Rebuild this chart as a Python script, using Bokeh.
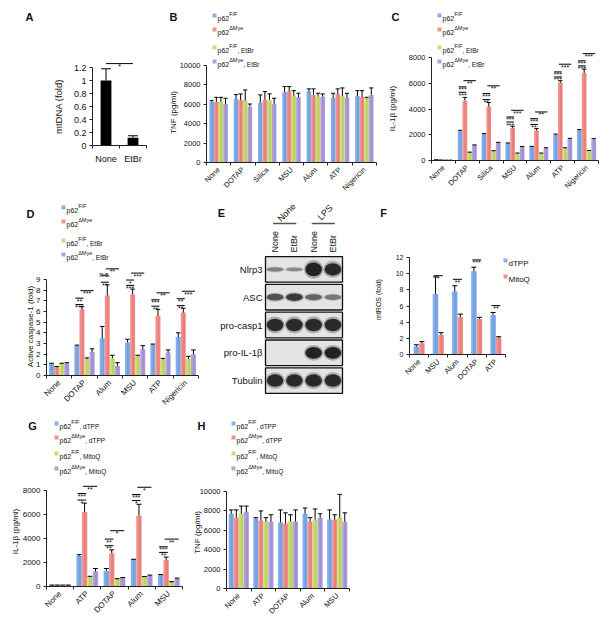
import math
from bokeh.plotting import figure
from bokeh.models import (Range1d, FixedTicker, Label, ColumnDataSource,
                          NumeralTickFormatter, CustomJSTickFormatter)
from bokeh.layouts import row, column
from bokeh.embed import file_html
from bokeh.resources import INLINE

FONT = "Liberation Sans"
TXT = "#111111"
BLUE, RED, GREEN, PURPLE = "#86afe8", "#f19490", "#c9de76", "#b2a2dc"
BLUE_D, RED_D, GREEN_D, PURPLE_D = "#6596dc", "#e46f6b", "#b0c955", "#9682cc"

# ---------------- data ----------------
A_cats = ["None", "EtBr"]
A_mtdna = [1.0, 0.12]
A_mtdna_err = [1.18, 0.15]
A_yticks = [0, 0.2, 0.4, 0.6, 0.8, 1.0, 1.2]

B_cats = ["None", "DOTAP", "Silica", "MSU", "Alum", "ATP", "Nigericin"]
B_ff = [6250, 6550, 6170, 7240, 7340, 6650, 6830]
B_ff_err = [6380, 7000, 6970, 7830, 7590, 7140, 7410]
B_dm = [6250, 6450, 6480, 7340, 6970, 7030, 6720]
B_dm_err = [6720, 7070, 7310, 7830, 7590, 7590, 7410]
B_ffe = [6250, 6380, 6480, 6900, 6790, 6860, 6620]
B_ffe_err = [6720, 7480, 7070, 7410, 7140, 7690, 6720]
B_dme = [6030, 5760, 6030, 6720, 6790, 6650, 6970]
B_dme_err = [6620, 6030, 6620, 7140, 7070, 7140, 7690]
B_yticks = [0, 2000, 4000, 6000, 8000, 10000]

C_cats = ["None", "DOTAP", "Silica", "MSU", "Alum", "ATP", "Nigericin"]
C_ff = [50, 2300, 2050, 1320, 1060, 2000, 2350]
C_ff_err = [60, 2350, 2100, 1360, 1100, 2050, 2400]
C_dm = [30, 4650, 4200, 2530, 2330, 6050, 6800]
C_dm_err = [40, 4900, 4500, 2660, 2480, 6200, 7100]
C_ffe = [20, 620, 720, 550, 560, 960, 750]
C_ffe_err = [25, 650, 760, 580, 580, 990, 780]
C_dme = [20, 1180, 1380, 1060, 960, 1660, 1620]
C_dme_err = [25, 1210, 1410, 1090, 990, 1720, 1700]
C_yticks = [0, 2000, 4000, 6000, 8000]
C_sig = [(1, 0, 1, 5300, "***"), (1, 0, 1, 5720, "***"), (1, 1, 3, 6200, "**"),
         (2, 0, 1, 4730, "**"), (2, 0, 1, 5200, "***"), (2, 1, 3, 5800, "**"),
         (3, 0, 1, 2990, "***"), (3, 0, 1, 3380, "***"), (3, 1, 3, 3900, "***"),
         (4, 0, 1, 2800, "**"), (4, 0, 1, 3250, "***"), (4, 1, 3, 3770, "**"),
         (5, 0, 1, 6490, "***"), (5, 0, 1, 6880, "***"), (5, 1, 3, 7480, "***"),
         (6, 0, 1, 7350, "***"), (6, 0, 1, 7740, "***"), (6, 1, 3, 8300, "***")]

D_cats = ["None", "DOTAP", "Alum", "MSU", "ATP", "Nigericin"]
D_ff = [1.1, 2.8, 3.5, 3.1, 2.9, 3.6]
D_ff_err = [1.15, 2.85, 4.6, 3.4, 2.95, 4.0]
D_dm = [0.8, 6.2, 7.5, 7.6, 5.6, 5.9]
D_dm_err = [0.85, 6.45, 8.5, 8.1, 6.2, 6.3]
D_ffe = [1.1, 1.55, 1.6, 1.8, 1.5, 1.55]
D_ffe_err = [1.15, 1.65, 1.9, 1.9, 1.6, 1.8]
D_dme = [1.15, 2.2, 0.9, 2.45, 2.15, 2.0]
D_dme_err = [1.2, 2.5, 1.2, 2.8, 2.4, 2.4]
D_yticks = [0, 1, 2, 3, 4, 5, 6, 7, 8, 9]
D_sig = [(1, 0, 1, 6.65, "***"), (1, 0, 1, 7.25, "**"), (1, 1, 3, 7.95, "***"),
         (2, 0, 1, 8.75, "**"), (2, 0, 1, 9.4, "n.s."), (2, 1, 3, 10.0, "**"),
         (3, 0, 1, 8.45, "***"), (3, 0, 1, 8.95, "*"), (3, 1, 3, 9.6, "***"),
         (4, 0, 1, 6.5, "**"), (4, 0, 1, 7.1, "***"), (4, 1, 3, 7.75, "**"),
         (5, 0, 1, 6.55, "**"), (5, 0, 1, 7.2, "**"), (5, 1, 3, 7.9, "***")]

E_lanes = ["None", "EtBr", "None", "EtBr"]
E_groups = ["None", "LPS"]
E_rows = ["Nlrp3", "ASC", "pro-casp1", "pro-IL-1\u03b2", "Tubulin"]
E_band = [[0.45, 0.4, 1.0, 0.95],
          [0.7, 0.85, 0.6, 0.5],
          [0.95, 0.95, 0.95, 0.95],
          [0.0, 0.0, 1.0, 1.0],
          [0.95, 0.95, 0.95, 0.95]]
E_thick = [[0.16, 0.14, 0.5, 0.45],
           [0.24, 0.27, 0.22, 0.2],
           [0.45, 0.45, 0.45, 0.45],
           [0.0, 0.0, 0.42, 0.42],
           [0.45, 0.45, 0.45, 0.45]]

F_cats = ["None", "MSU", "Alum", "DOTAP", "ATP"]
F_dtpp = [1.0, 7.5, 7.8, 10.3, 4.9]
F_dtpp_err = [1.2, 9.6, 8.5, 10.8, 5.2]
F_mitoq = [1.4, 2.4, 4.6, 4.4, 2.1]
F_mitoq_err = [1.6, 2.7, 5.0, 4.6, 2.2]
F_yticks = [0, 2, 4, 6, 8, 10, 12]
F_sig = [(1, 0, 1, 9.75, "*"), (2, 0, 1, 9.3, "**"), (3, 0, 1, 11.7, "***"), (4, 0, 1, 6.05, "**")]

G_cats = ["None", "ATP", "DOTAP", "Alum", "MSU"]
G_ffd = [100, 2550, 1300, 2250, 950]
G_ffd_err = [120, 2650, 1500, 2270, 1000]
G_dmd = [100, 6200, 2750, 5900, 2200]
G_dmd_err = [120, 6950, 3050, 6850, 2450]
G_ffm = [100, 800, 600, 800, 350]
G_ffm_err = [120, 850, 650, 830, 400]
G_dmm = [100, 1250, 700, 900, 650]
G_dmm_err = [120, 1500, 750, 950, 700]
G_yticks = [0, 2000, 4000, 6000, 8000]
G_sig = [(1, 0, 1, 7200, "*"), (1, 0, 1, 7750, "***"), (1, 1, 3, 8350, "**"),
         (2, 0, 1, 3400, "**"), (2, 0, 1, 3950, "**"), (2, 1, 3, 4650, "*"),
         (3, 0, 1, 7160, "*"), (3, 0, 1, 7660, "***"), (3, 1, 3, 8270, "*"),
         (4, 0, 1, 2840, "**"), (4, 0, 1, 3310, "***"), (4, 1, 3, 3950, "**")]

H_cats = ["None", "ATP", "DOTAP", "Alum", "MSU"]
H_ffd = [7700, 7200, 6800, 7700, 7100]
H_ffd_err = [8100, 7300, 8100, 8300, 8100]
H_dmd = [7300, 7000, 6700, 6900, 7100]
H_dmd_err = [8100, 8000, 7800, 7300, 7600]
H_ffm = [7700, 6900, 6900, 7100, 7300]
H_ffm_err = [8500, 7300, 7600, 8200, 9700]
H_dmm = [7900, 6900, 6900, 7300, 6900]
H_dmm_err = [8500, 7600, 8100, 7700, 7800]
H_yticks = [0, 2000, 4000, 6000, 8000, 10000]

LEG_ETBR = [("p62", "F/F", ""), ("p62", "\u0394Mye", ""),
            ("p62", "F/F", ", EtBr"), ("p62", "\u0394Mye", ", EtBr")]
LEG_MITO = [("p62", "F/F", ", dTPP"), ("p62", "\u0394Mye", ", dTPP"),
            ("p62", "F/F", ", MitoQ"), ("p62", "\u0394Mye", ", MitoQ")]
COLS4 = [BLUE, RED, GREEN, PURPLE]
DARK4 = [BLUE_D, RED_D, GREEN_D, PURPLE_D]

CW = {'p': .556, '6': .556, '2': .556, 'F': .611, '/': .278, '\u0394': .668, 'M': .833,
      'y': .5, 'e': .556, ',': .278, ' ': .278, 'E': .667, 't': .278, 'B': .667,
      'r': .333, 'd': .556, 'T': .611, 'P': .667, 'i': .222, 'o': .556, 'Q': .778}


def tw(s, fs):
    return fs * sum(CW.get(c, 0.556) for c in s)


class Panel:
    """A figure whose frame fills its whole box; data x = (px - x0px) * ux, data y = (y0px - py) * uy."""

    def __init__(self, box, x0px, ux, y0px, uy, axes=True):
        bx0, by0, bx1, by1 = box
        self.x0px, self.ux, self.y0px, self.uy = x0px, ux, y0px, uy
        xr = (self.dx(bx0), self.dx(bx1))
        yr = (self.dy(by1), self.dy(by0))
        kw = {} if axes else dict(x_axis_location=None, y_axis_location=None)
        p = figure(width=bx1 - bx0, height=by1 - by0, title=None,
                   output_backend="svg", toolbar_location=None,
                   x_range=Range1d(*xr), y_range=Range1d(*yr),
                   min_border=0, min_border_left=0, min_border_right=0,
                   min_border_top=0, min_border_bottom=0, **kw)
        p.outline_line_color = None
        p.background_fill_color = "white"
        p.border_fill_color = "white"
        p.xgrid.visible = False
        p.ygrid.visible = False
        if axes:
            p.xaxis.fixed_location = 0
            p.yaxis.fixed_location = 0
        self.p = p

    def dx(self, x):
        return (x - self.x0px) * self.ux

    def dy(self, y):
        return (self.y0px - y) * self.uy

    def label(self, x, y, text, fs, align="left", baseline="middle", angle=0.0, bold=False):
        self.p.add_layout(Label(x=self.dx(x), y=self.dy(y), text=text, text_font=FONT,
                                text_font_size=f"{fs}px", text_align=align,
                                text_baseline=baseline, angle=angle, text_color=TXT,
                                text_font_style="bold" if bold else "normal"))

    def legend(self, sx, rows, entries, colors, fs=7, fs_sup=5.5, fs_suf=6.5, sq=4):
        for y, (base, sup, suf), col in zip(rows, entries, colors):
            self.p.scatter([self.dx(sx)], [self.dy(y)], marker="square", size=sq,
                           fill_color=col, line_color=None)
            x = sx + 3
            self.label(x, y + 2.5, base, fs, baseline="alphabetic")
            x += tw(base, fs)
            if sup:
                self.label(x, y - 1.5, sup, fs_sup, baseline="alphabetic")
                x += tw(sup, fs_sup)
            if suf:
                self.label(x, y + 2.5, suf, fs_suf, baseline="alphabetic")

    def bars(self, series, errs, colors, darks, bw):
        k = len(series)
        for j, (v, e, c, d) in enumerate(zip(series, errs, colors, darks)):
            off = (j - (k - 1) / 2) * bw
            xs = [i + 0.5 + off for i in range(len(v))]
            src = ColumnDataSource(dict(x=xs, top=v, err=e,
                                        xa=[x - bw * 0.45 for x in xs],
                                        xb=[x + bw * 0.45 for x in xs],
                                        xd=[x + bw * 0.1 for x in xs]))
            self.p.vbar(x="x", top="top", width=bw, fill_color=c, line_color=None, source=src)
            if d is not None:
                self.p.vbar(x="xd", top="top", width=bw * 0.45, fill_color=d,
                            fill_alpha=0.55, line_color=None, source=src)
            self.p.segment(x0="x", y0="top", x1="x", y1="err", line_color="black",
                           line_width=1, source=src)
            self.p.segment(x0="xa", y0="err", x1="xb", y1="err", line_color="black",
                           line_width=1, source=src)

    def sig(self, entries, k, bw, fs=7):
        for g, i0, i1, y, t in entries:
            c0 = g + 0.5 + (i0 - (k - 1) / 2) * bw - 0.3 * bw
            c1 = g + 0.5 + (i1 - (k - 1) / 2) * bw + 0.3 * bw
            self.p.segment(x0=[c0], y0=[y], x1=[c1], y1=[y], line_color="black", line_width=1)
            shift = 3 if set(t) == {"*"} else -1
            self.p.add_layout(Label(x=(c0 + c1) / 2, y=y - shift * self.uy, text=t,
                                    text_font=FONT, text_font_size=f"{fs}px",
                                    text_align="center", text_baseline="alphabetic",
                                    text_color=TXT))

    def axes(self, n, cats, ymax, yticks, fs_y, fs_x, angle, yfmt="0", xstand=3):
        p = self.p
        xa = p.xaxis[0]
        ya = p.yaxis[0]
        xa.ticker = FixedTicker(ticks=[i + 0.5 for i in range(n)], minor_ticks=list(range(n + 1)))
        xa.formatter = CustomJSTickFormatter(args=dict(cats=cats),
                                             code="return cats[Math.floor(tick)] || '';")
        xa.bounds = (0, n)
        xa.major_tick_in = 0
        xa.major_tick_out = 0
        xa.minor_tick_in = 0
        xa.minor_tick_out = 3
        xa.minor_tick_line_color = "#222222"
        xa.axis_line_color = "#222222"
        xa.major_label_orientation = angle
        xa.major_label_text_font = FONT
        xa.major_label_text_font_size = f"{fs_x}px"
        xa.major_label_text_color = TXT
        xa.major_label_standoff = xstand
        ya.ticker = FixedTicker(ticks=yticks)
        ya.formatter = NumeralTickFormatter(format=yfmt)
        ya.bounds = (0, ymax)
        ya.major_tick_in = 0
        ya.major_tick_out = 3
        ya.minor_tick_out = 0
        ya.minor_tick_in = 0
        ya.axis_line_color = "#222222"
        ya.major_tick_line_color = "#222222"
        ya.major_label_text_font = FONT
        ya.major_label_text_font_size = f"{fs_y}px"
        ya.major_label_text_color = TXT
        ya.major_label_standoff = 3


def bar_panel(box, fl, ax_right, fb, ay_top, ymax, cats):
    n = len(cats)
    return Panel(box, fl, n / (ax_right - fl), fb, ymax / (fb - ay_top))


# ---------------- A ----------------
A = bar_panel((0, 0, 160, 198), 92, 146, 145, 67, 1.2, A_cats)
A.bars([A_mtdna], [A_mtdna_err], ["#000000"], [None], 0.4)
A.axes(2, A_cats, 1.2, A_yticks, 9, 9, "horizontal", yfmt="0.[0]", xstand=5)
A.p.segment(x0=[0.5], y0=[1.26], x1=[1.5], y1=[1.26], line_color="black", line_width=1)
A.p.add_layout(Label(x=1.0, y=1.26 - 3 * A.uy, text="*", text_font=FONT, text_font_size="8px",
                     text_align="center", text_baseline="alphabetic", text_color=TXT))
A.label(29, 16, "A", 11, align="center", bold=True)
A.label(58, 106, "mtDNA (fold)", 9.5, align="center", angle=math.pi / 2)

# ---------------- B ----------------
B = bar_panel((160, 0, 385, 198), 206, 376, 162, 65, 10000, B_cats)
B.bars([B_ff, B_dm, B_ffe, B_dme], [B_ff_err, B_dm_err, B_ffe_err, B_dme_err], COLS4, DARK4, 0.19)
B.axes(7, B_cats, 10000, B_yticks, 7.5, 7.5, math.pi / 4)
B.legend(214, [15, 29, 47, 61], LEG_ETBR, COLS4)
B.label(173, 16, "B", 11, align="center", bold=True)
B.label(173, 112, "TNF (pg/ml)", 8, align="center", angle=math.pi / 2)

# ---------------- C ----------------
C = bar_panel((385, 0, 605, 198), 431, 598, 160, 57, 8000, C_cats)
C.bars([C_ff, C_dm, C_ffe, C_dme], [C_ff_err, C_dm_err, C_ffe_err, C_dme_err], COLS4, DARK4, 0.2)
C.axes(7, C_cats, 8000, C_yticks, 7.5, 7.5, math.pi / 4)
C.sig(C_sig, 4, 0.2)
C.legend(439, [15, 29, 47, 61], LEG_ETBR, COLS4)
C.label(395, 16, "C", 11, align="center", bold=True)
C.label(392, 108, "IL-1\u03b2 (pg/ml)", 8, align="center", angle=math.pi / 2)

# ---------------- D ----------------
D = bar_panel((0, 198, 200, 413), 46, 198, 375, 279, 9, D_cats)
D.bars([D_ff, D_dm, D_ffe, D_dme], [D_ff_err, D_dm_err, D_ffe_err, D_dme_err], COLS4, DARK4, 0.2)
D.axes(6, D_cats, 9, D_yticks, 8, 8, math.pi / 4)
D.sig(D_sig, 4, 0.2)
D.legend(63, [207, 221, 240, 254], LEG_ETBR, COLS4)
D.label(30, 213, "D", 11, align="center", bold=True)
D.label(30, 326, "Active caspase-1 (fold)", 8, align="center", angle=math.pi / 2)

# ---------------- E (western blot) ----------------
E_box = (200, 198, 365, 413)
e_l, e_r, e_top, e_bot = 265, 342, 255, 394
lane_px = (e_r - e_l) / len(E_lanes)
row_px = (e_bot - e_top) / len(E_rows)
E = Panel(E_box, e_l, 1 / lane_px, e_bot, 1 / row_px, axes=False)
nr = len(E_rows)
for r, name in enumerate(E_rows):
    yc = nr - r - 0.5
    E.p.rect(x=[len(E_lanes) / 2], y=[yc], width=len(E_lanes), height=0.92,
             fill_color="#e4e4e4", line_color="#111111", line_width=1.3)
    for li in range(len(E_lanes)):
        inten = E_band[r][li]
        th = E_thick[r][li]
        if inten <= 0:
            continue
        E.p.ellipse(x=[li + 0.5], y=[yc], width=1.0, height=th * 1.35,
                    fill_color="#222222", fill_alpha=0.3 * inten, line_color=None)
        E.p.ellipse(x=[li + 0.5], y=[yc], width=0.86, height=th,
                    fill_color="#0a0a0a", fill_alpha=0.85 * inten, line_color=None)
    E.p.add_layout(Label(x=E.dx(262), y=yc, text=name, text_font=FONT, text_font_size="9.5px",
                         text_align="right", text_baseline="middle", text_color=TXT))
for li, lane in enumerate(E_lanes):
    E.p.add_layout(Label(x=li + 0.5, y=E.dy(252), text=lane, text_font=FONT,
                         text_font_size="9px", text_align="left", text_baseline="middle",
                         angle=math.pi / 2, text_color=TXT))
for gi, grp in enumerate(E_groups):
    x0 = gi * 2 + 0.4
    x1 = gi * 2 + 1.6
    E.p.segment(x0=[x0], y0=[E.dy(223)], x1=[x1], y1=[E.dy(223)], line_color="#555555", line_width=1.5)
    E.p.add_layout(Label(x=gi * 2 + 1.1, y=E.dy(212), text=grp, text_font=FONT,
                         text_font_size="9px", text_align="center", text_baseline="middle",
                         angle=math.pi / 4, text_color=TXT))
E.label(221, 212, "E", 11, align="center", bold=True)

# ---------------- F ----------------
F = bar_panel((365, 198, 605, 413), 409, 505, 354, 257, 12, F_cats)
F.bars([F_dtpp, F_mitoq], [F_dtpp_err, F_mitoq_err], [BLUE, RED], [BLUE_D, RED_D], 0.29)
F.axes(5, F_cats, 12, F_yticks, 7, 7.5, math.pi / 4)
F.sig(F_sig, 2, 0.29)
F.legend(505, [260, 276], [("dTPP", "", ""), ("MitoQ", "", "")], [BLUE, RED], fs=8, sq=4)
F.label(383, 212, "F", 11, align="center", bold=True)
F.label(378, 299, "mtROS (fold)", 7, align="center", angle=math.pi / 2)

# ---------------- G ----------------
G = bar_panel((0, 413, 185, 620), 46, 182, 586, 490, 8000, G_cats)
G.bars([G_ffd, G_dmd, G_ffm, G_dmm], [G_ffd_err, G_dmd_err, G_ffm_err, G_dmm_err], COLS4, DARK4, 0.2)
G.axes(5, G_cats, 8000, G_yticks, 8, 8, math.pi / 4)
G.sig(G_sig, 4, 0.2)
G.legend(56, [423, 437, 453, 468], LEG_MITO, COLS4)
G.label(32, 425, "G", 11, align="center", bold=True)
G.label(15, 531, "IL-1\u03b2 (pg/ml)", 8, align="center", angle=math.pi / 2)

# ---------------- H ----------------
H = bar_panel((185, 413, 400, 620), 226, 349, 588, 491, 10000, H_cats)
H.bars([H_ffd, H_dmd, H_ffm, H_dmm], [H_ffd_err, H_dmd_err, H_ffm_err, H_dmm_err], COLS4, DARK4, 0.205)
H.axes(5, H_cats, 10000, H_yticks, 7.5, 7.5, math.pi / 4)
H.legend(233, [423, 437, 453, 468], LEG_MITO, COLS4)
H.label(201, 425, "H", 11, align="center", bold=True)
H.label(197, 532, "TNF (pg/ml)", 8, align="center", angle=math.pi / 2)

layout = column(row(A.p, B.p, C.p), row(D.p, E.p, F.p), row(G.p, H.p))
open("out.html", "w").write(file_html(layout, INLINE, "figure"))
